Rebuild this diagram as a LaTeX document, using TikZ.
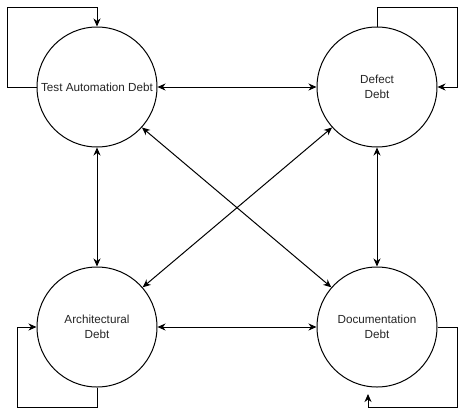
\documentclass[tikz,border=0pt]{standalone}
\usepackage{fontspec}
\setmainfont{Liberation Sans}
\usetikzlibrary{arrows.meta}
\begin{document}
\begin{tikzpicture}[x=1pt,y=-1pt,
  debt/.style={circle,draw,line width=1pt,minimum size=120pt,inner sep=0pt,
    align=center,font=\fontsize{11.7}{15}\selectfont,text=black!85},
  link/.style={line width=1pt,{Stealth[length=8pt,width=7pt,inset=2.5pt]}-{Stealth[length=8pt,width=7pt,inset=2.5pt]}},
  loop/.style={line width=1pt,-{Stealth[length=8pt,width=7pt,inset=2.5pt]}}]
\useasboundingbox (0,0) rectangle (466,416);
\fill[white] (0,0) rectangle (466,416);
\node[debt] (ta)  at (97,87)  {Test Automation Debt};
\node[debt] (def) at (377,87) {Defect\\Debt};
\node[debt] (arc) at (97,327) {Architectural\\Debt};
\node[debt] (doc) at (377,327) {Documentation\\Debt};
% straight links
\draw[link] (ta.east) -- (def.west);
\draw[link] (ta.south) -- (arc.north);
\draw[link] (def.south) -- (doc.north);
\draw[link] (arc.east) -- (doc.west);
\draw[link] (ta.-42.5) -- (doc.139);
\draw[link] (def.-138.3) -- (arc.41);
% self loops
\coordinate (l1a) at (7,87);
\coordinate (l1b) at (7,7);
\coordinate (l1c) at (97,7);
\draw[loop] (ta.west) -- (l1a) -- (l1b) -- (l1c) -- (ta.north);
\coordinate (l2a) at (377,7);
\coordinate (l2b) at (457,7);
\coordinate (l2c) at (457,87);
\draw[loop] (def.north) -- (l2a) -- (l2b) -- (l2c) -- (def.east);
\coordinate (l3a) at (97,407);
\coordinate (l3b) at (17,407);
\coordinate (l3c) at (17,327);
\draw[loop] (arc.south) -- (l3a) -- (l3b) -- (l3c) -- (arc.west);
\coordinate (l4a) at (457,327);
\coordinate (l4b) at (457,407);
\coordinate (l4c) at (368,407);
\coordinate (l4d) at (368,394);
\draw[loop] (doc.east) -- (l4a) -- (l4b) -- (l4c) -- (l4d);
\end{tikzpicture}
\end{document}
